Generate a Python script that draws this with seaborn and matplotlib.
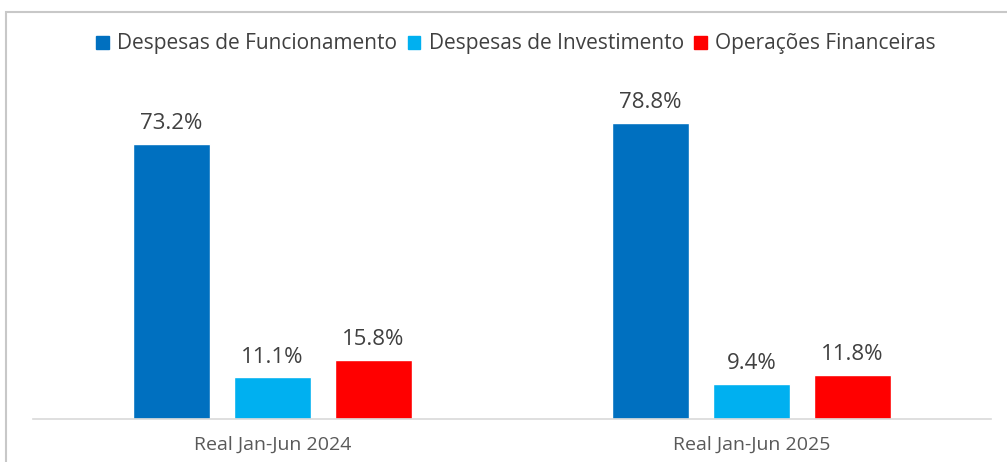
import matplotlib
matplotlib.use("Agg")
import matplotlib.pyplot as plt
import pandas as pd
import seaborn as sns
from matplotlib.patches import Rectangle

periods = ["Real Jan-Jun 2024", "Real Jan-Jun 2025"]
series = ["Despesas de Funcionamento", "Despesas de Investimento", "Operações Financeiras"]
funcionamento = [73.2, 78.8]
investimento = [11.1, 9.4]
financeiras = [15.8, 11.8]

colors = ["#0070C0", "#00B0F0", "#FF0000"]

df = pd.DataFrame({
    "period": periods * 3,
    "serie": [s for s in series for _ in periods],
    "value": funcionamento + investimento + financeiras,
})

sns.set_theme(style="white")
plt.rcParams["font.family"] = ["Open Sans", "DejaVu Sans"]

W, H = 1007, 462
fig = plt.figure(figsize=(W / 100, H / 100), dpi=100)
ymax = 90
ax = fig.add_axes([33 / W, 43 / H, 958 / W, ymax * 3.76 / H])

sns.barplot(data=df, x="period", y="value", hue="serie", hue_order=series,
            palette=colors, width=0.633, gap=0.24, saturation=1,
            ax=ax, legend=False)

for cont in ax.containers:
    ax.bar_label(cont, labels=[f"{v:.1f}%" for v in cont.datavalues],
                 padding=7, fontsize=16, color="#404040")

ax.set_xlim(-0.5, 1.5)
ax.set_ylim(0, ymax)
ax.set_xlabel("")
ax.set_ylabel("")
ax.set_yticks([])
ax.tick_params(axis="x", length=0, pad=12, labelsize=14, labelcolor="#595959")
for side in ["top", "right", "left"]:
    ax.spines[side].set_visible(False)
ax.spines["bottom"].set_color("#D9D9D9")
ax.spines["bottom"].set_linewidth(1.2)

handles = [Rectangle((0, 0), 1, 1, color=c) for c in colors]
fig.legend(handles, series, loc="center", bbox_to_anchor=(516 / W, 1 - 44 / H),
           ncol=3, frameon=False, fontsize=15, labelcolor="#404040",
           handlelength=0.6, handleheight=0.6, handletextpad=0.4, columnspacing=0.5)

fig.patches.append(Rectangle((6 / W, -0.1), 1.2, 1 - 12 / H + 0.1,
                             transform=fig.transFigure, fill=False,
                             edgecolor="#C8C8C8", linewidth=1.5))

fig.savefig("out.png", dpi=100)
